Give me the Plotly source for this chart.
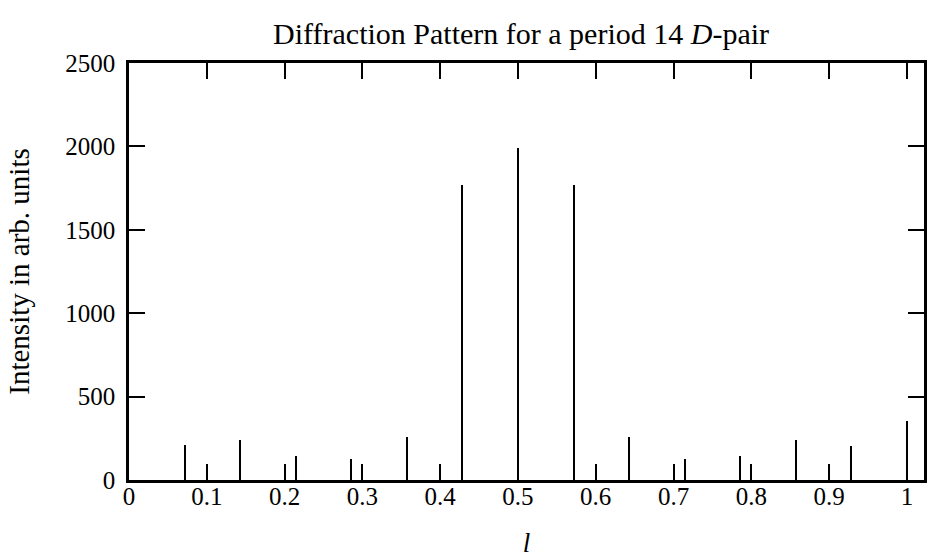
import plotly.graph_objects as go

# Peak positions l = k/14 and intensities (arb. units)
peak_k = [1, 2, 3, 4, 5, 6, 7, 8, 9, 10, 11, 12, 13, 14]
period = 14
intensity = [208, 242, 142, 125, 260, 1770, 1990, 1770, 260, 124, 142, 240, 206, 352]
x_tick_vals = [0, 0.1, 0.2, 0.3, 0.4, 0.5, 0.6, 0.7, 0.8, 0.9, 1.0]
x_tick_text = ["0", "0.1", "0.2", "0.3", "0.4", "0.5", "0.6", "0.7", "0.8", "0.9", "1"]
y_tick_vals = [0, 500, 1000, 1500, 2000, 2500]

l_vals = [k / period for k in peak_k]

FONT = "Liberation Serif"

fig = go.Figure()
fig.add_trace(go.Bar(
    x=l_vals, y=intensity, width=0.0026,
    marker=dict(color="black", line=dict(width=0)),
    showlegend=False,
))

fig.update_layout(
    width=928, height=558,
    margin=dict(l=129, r=1, t=63, b=78),
    paper_bgcolor="white", plot_bgcolor="white",
    font=dict(family=FONT, size=23, color="black"),
    title=dict(
        text="Diffraction Pattern for a period 14 <i>D</i>-pair",
        xref="container", x=0.5615, xanchor="center", y=0.94, yanchor="middle",
        font=dict(family=FONT, size=30, color="black"),
    ),
    bargap=0,
)
fig.update_xaxes(
    range=[0, 1.022], tickvals=x_tick_vals, ticktext=x_tick_text,
    ticks="inside", ticklen=16, tickwidth=2, tickcolor="black",
    showline=True, linewidth=2.5, linecolor="black", mirror="ticks",
    showgrid=False, zeroline=False,
    tickfont=dict(family=FONT, size=25),
    ticklabelstandoff=-8,
    title=dict(text="<i>l</i>", font=dict(family=FONT, size=27), standoff=26),
)
fig.update_yaxes(
    range=[0, 2500], tickvals=y_tick_vals,
    ticks="inside", ticklen=16, tickwidth=2, tickcolor="black",
    showline=True, linewidth=2.5, linecolor="black", mirror="ticks",
    showgrid=False, zeroline=False,
    tickfont=dict(family=FONT, size=25),
    ticklabelstandoff=6,
    title=dict(text="Intensity in arb. units", font=dict(family=FONT, size=29), standoff=28),
)

fig.write_html("out.html")
